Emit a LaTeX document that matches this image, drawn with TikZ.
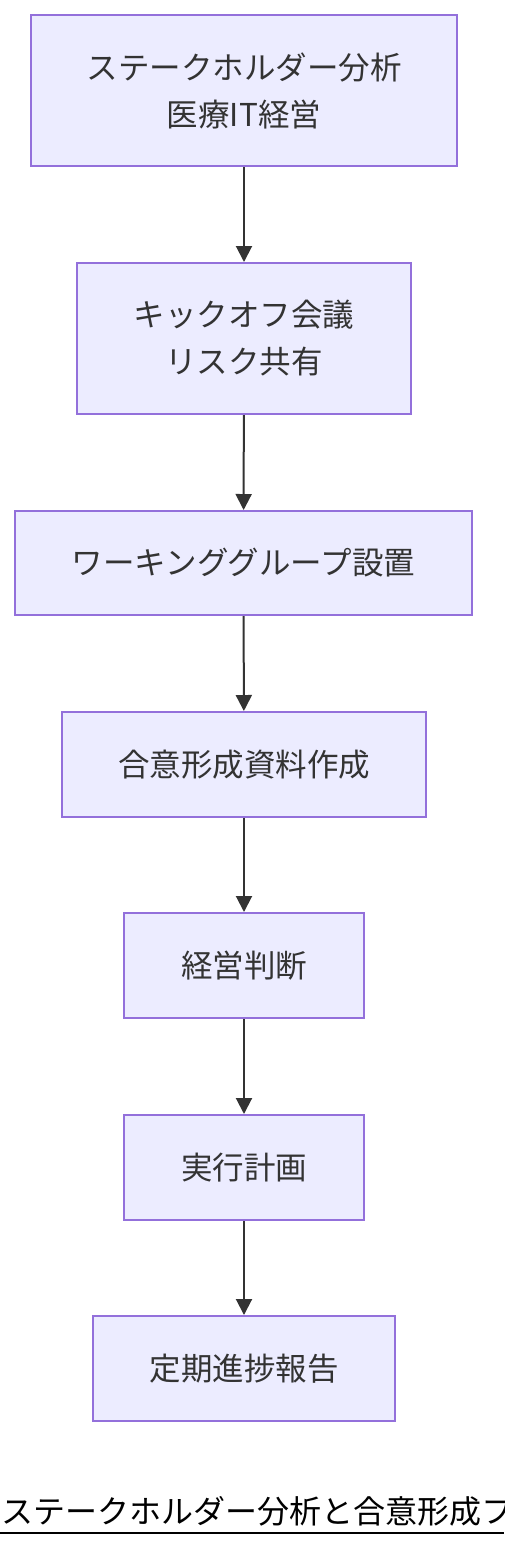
\documentclass[tikz,border=0pt]{standalone}
\usepackage{fontspec}
\setmainfont{Noto Sans CJK JP}
\usetikzlibrary{arrows.meta}
\definecolor{boxfill}{HTML}{ECECFF}
\definecolor{boxline}{HTML}{9370DB}
\definecolor{ink}{HTML}{333333}
\tikzset{
  stepbox/.style={draw=boxline, fill=boxfill, line width=2pt, text=ink,
    inner sep=0pt, align=center,
    font=\fontsize{31.5}{47}\selectfont},
  flow/.style={draw=ink, line width=2pt, -{Triangle[length=16pt,width=16pt]}}
}
\begin{document}
\begin{tikzpicture}[x=1pt,y=1pt]
\useasboundingbox (0,0) rectangle (504,-1548);
\node[stepbox, minimum width=426pt, minimum height=151pt] (n1) at (244,-90.5) {ステークホルダー分析\\医療IT経営};
\node[stepbox, minimum width=334pt, minimum height=151pt] (n2) at (244,-338.5) {キックオフ会議\\リスク共有};
\node[stepbox, minimum width=457pt, minimum height=104pt] (n3) at (243.5,-563) {ワーキンググループ設置};
\node[stepbox, minimum width=364pt, minimum height=105pt] (n4) at (244,-764.5) {合意形成資料作成};
\node[stepbox, minimum width=240pt, minimum height=105pt] (n5) at (244,-965.5) {経営判断};
\node[stepbox, minimum width=240pt, minimum height=105pt] (n6) at (244,-1167.5) {実行計画};
\node[stepbox, minimum width=302pt, minimum height=105pt] (n7) at (244,-1368.5) {定期進捗報告};
\draw[flow] (n1) -- (n2);
\draw[flow] (n2) -- (n3);
\draw[flow] (n3) -- (n4);
\draw[flow] (n4) -- (n5);
\draw[flow] (n5) -- (n6);
\draw[flow] (n6) -- (n7);
\node[anchor=base west, inner sep=0pt, text=black, font=\fontsize{32}{32}\selectfont] (title) at (1,-1523) {ステークホルダー分析と合意形成フロー};
\coordinate (ulA) at (0,-1533);
\coordinate (ulB) at (504,-1533);
\draw[black, line width=2pt] (ulA) -- (ulB);
\end{tikzpicture}
\end{document}
